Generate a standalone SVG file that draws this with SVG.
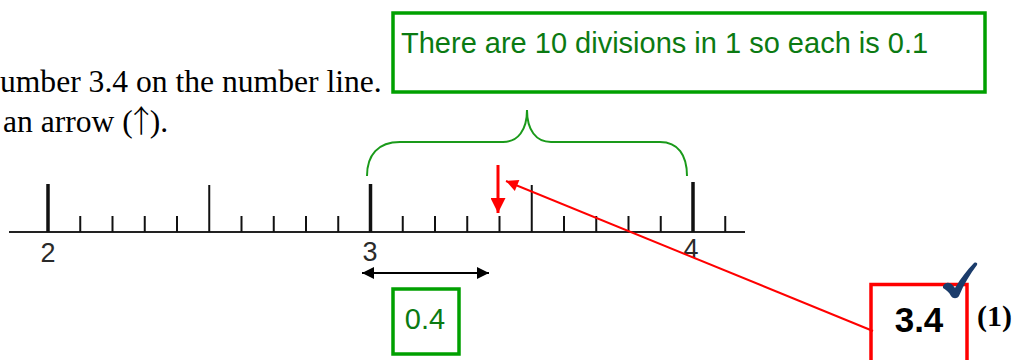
<svg xmlns="http://www.w3.org/2000/svg" width="1014" height="360" viewBox="0 0 1014 360">
<style>
.serif{font-family:"Liberation Serif","Times New Roman",serif;fill:#000}
.sans{font-family:"Liberation Sans",Arial,sans-serif}
.gtext{fill:#0b7a12}
.gbox{fill:none;stroke:#00a000;stroke-width:3.5}
.rbox{fill:none;stroke:#ff0000;stroke-width:3.5}
.major{stroke:#111;stroke-width:3.5}
.half{stroke:#111;stroke-width:2}
.minor{stroke:#111;stroke-width:2}
.lbl{font-size:27px;fill:#2a2a2a}
.red{stroke:#ff0000;fill:none}
</style>
<defs>
<marker id="redHeadV" viewBox="0 0 10 10" refX="10" refY="5" markerWidth="5.7" markerHeight="5" markerUnits="strokeWidth" orient="auto">
<path d="M0,0 L10,5 L0,10 Z" fill="#ff0000"/>
</marker>
<marker id="redHead" viewBox="0 0 10 10" refX="10" refY="5" markerWidth="9" markerHeight="6" markerUnits="strokeWidth" orient="auto">
<path d="M0,0 L10,5 L0,10 Z" fill="#ff0000"/>
</marker>
<marker id="blkHead" viewBox="0 0 10 10" refX="10" refY="5" markerWidth="7.5" markerHeight="6" markerUnits="strokeWidth" orient="auto-start-reverse">
<path d="M0,0 L10,5 L0,10 Z" fill="#000"/>
</marker>
</defs>
<rect width="1014" height="360" fill="#fff"/>

<g id="question">
<text class="serif" x="0" y="91.5" font-size="31.6">umber 3.4 on the number line.</text>
<text class="serif" x="3" y="131.5" font-size="31.6">an arrow (<tspan dx="-7" font-family="Noto Sans CJK SC, sans-serif" font-weight="300" font-size="31">↑</tspan><tspan dx="-7">).</tspan></text>
</g>

<g id="note-box">
<rect class="gbox" x="393" y="13" width="592" height="79"/>
<text class="sans gtext" x="401" y="52.5" font-size="29">There are 10 divisions in 1 so each is 0.1</text>
</g>

<g id="brace">
<path d="M367,176 C367,155 378,142 400,142 L503,142 C518,142 527,130 527,110 C527,130 536,142 551,142 L660,142 C678,142 687,155 687,176" fill="none" stroke="#1a9a1a" stroke-width="2"/>
</g>

<g id="number-line">
<line x1="9" y1="232" x2="745" y2="232" stroke="#222" stroke-width="2"/>
<line class="major" x1="48" y1="184" x2="48" y2="232"/>
<line class="minor" x1="80.25" y1="216" x2="80.25" y2="232"/>
<line class="minor" x1="112.5" y1="216" x2="112.5" y2="232"/>
<line class="minor" x1="144.75" y1="216" x2="144.75" y2="232"/>
<line class="minor" x1="177" y1="216" x2="177" y2="232"/>
<line class="half" x1="209.25" y1="185" x2="209.25" y2="232"/>
<line class="minor" x1="241.5" y1="216" x2="241.5" y2="232"/>
<line class="minor" x1="273.75" y1="216" x2="273.75" y2="232"/>
<line class="minor" x1="306" y1="216" x2="306" y2="232"/>
<line class="minor" x1="338.25" y1="216" x2="338.25" y2="232"/>
<line class="major" x1="370.5" y1="184" x2="370.5" y2="232"/>
<line class="minor" x1="402.75" y1="216" x2="402.75" y2="232"/>
<line class="minor" x1="435" y1="216" x2="435" y2="232"/>
<line class="minor" x1="467.25" y1="216" x2="467.25" y2="232"/>
<line class="minor" x1="499.5" y1="216" x2="499.5" y2="232"/>
<line class="half" x1="531.75" y1="185" x2="531.75" y2="232"/>
<line class="minor" x1="564" y1="216" x2="564" y2="232"/>
<line class="minor" x1="596.25" y1="216" x2="596.25" y2="232"/>
<line class="minor" x1="628.5" y1="216" x2="628.5" y2="232"/>
<line class="minor" x1="660.75" y1="216" x2="660.75" y2="232"/>
<line class="major" x1="693" y1="182" x2="693" y2="232"/>
<line class="minor" x1="725.25" y1="216" x2="725.25" y2="232"/>
<text class="sans lbl" x="48" y="262" text-anchor="middle">2</text>
<text class="sans lbl" x="370" y="261" text-anchor="middle">3</text>
<text class="sans lbl" x="691" y="258" text-anchor="middle">4</text>
</g>

<g id="connectors">
<line class="red" x1="498" y1="165" x2="498" y2="213" stroke-width="3" marker-end="url(#redHeadV)"/>
<line class="red" x1="873" y1="331" x2="506" y2="181" stroke-width="2" marker-end="url(#redHead)"/>
<line x1="362" y1="273" x2="489" y2="273" stroke="#000" stroke-width="2" marker-start="url(#blkHead)" marker-end="url(#blkHead)"/>
</g>

<g id="answer-box">
<rect class="gbox" x="393" y="289" width="66" height="65"/>
<text class="sans gtext" x="425" y="328.5" font-size="29" text-anchor="middle">0.4</text>
</g>

<g id="answer">
<rect class="rbox" x="871" y="284.5" width="96" height="90"/>
<text class="sans" x="919" y="331.5" font-size="35" font-weight="bold" text-anchor="middle" fill="#000">3.4</text>
<text class="serif" x="977" y="326" font-size="30" font-weight="bold">(1)</text>
<path d="M943,286 C946,281 951,282 955,288 C961,278 967,270 974,263 C976,262 978,263 977,265 C970,274 964,284 959,296 C957,299 953,299 951,296 C949,292 946,290 943,288 Z" fill="#1b3c6b"/>
</g>
</svg>
